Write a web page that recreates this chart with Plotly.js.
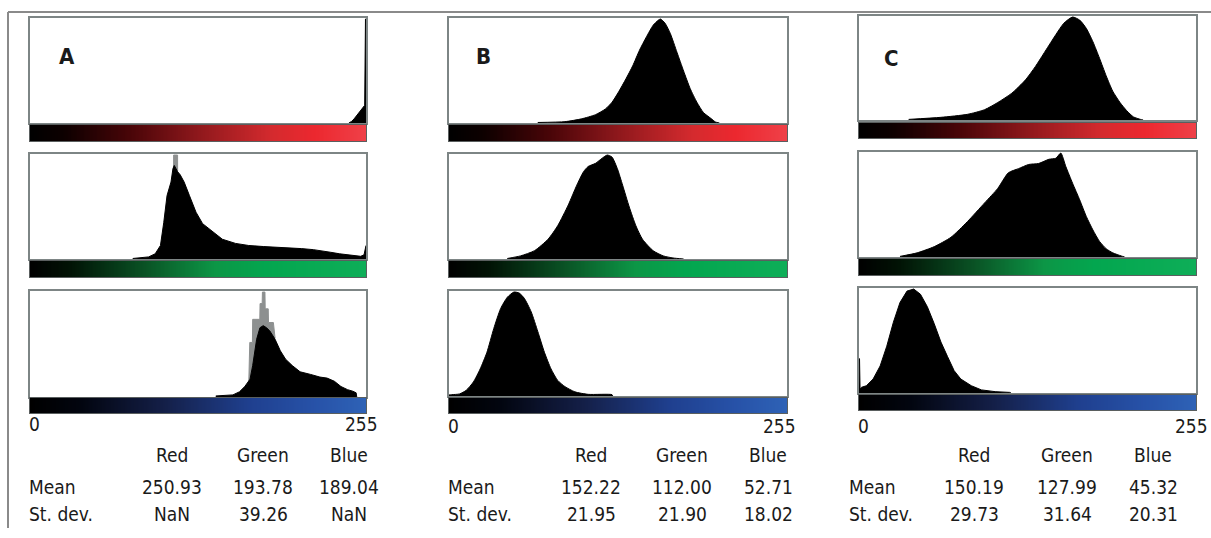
<!DOCTYPE html>
<html>
<head>
<meta charset="utf-8">
<script src="https://cdn.plot.ly/plotly-3.0.1.min.js"></script>
<style>html,body{margin:0;padding:0;background:#fff;}#chart{width:1211px;height:538px;}</style>
</head>
<body>
<div id="chart"></div>
<script>
// ---------- DATA (y = % of box height) ----------
const panelLabels = ['A', 'B', 'C'];
const channelNames = ['Red', 'Green', 'Blue'];
const scaleTicks = ['0', '255'];

// Panel A
const aRedX = [242, 244, 246, 248, 250, 252, 254, 254.6, 255];
const aRedY = [0, 1.5, 4, 7, 10, 13, 17, 100, 100];
const aGreenX = [78, 90, 95, 99, 101.5, 104, 107, 108.5, 109.5, 112, 114, 117, 121, 126, 131, 139, 146, 156, 166, 177, 187, 197, 206, 215, 222, 228, 235, 241, 246, 251, 253.5, 254.5, 255];
const aGreenY = [0.5, 2, 5, 13, 35, 61, 74, 87, 90, 84, 81, 74, 61, 45, 34, 26, 19, 15, 13, 12, 11.5, 11, 10, 9, 8, 6.5, 5, 4, 3.2, 2.6, 4, 13, 13];
const aGreenPeakX = [108.8, 109, 112, 112.2];
const aGreenPeakY = [0, 100, 100, 0];
const aBlueX = [141, 154, 159, 163, 167, 169, 172, 174.5, 177, 179.5, 182, 186, 190, 194, 199, 205, 213, 220, 225.5, 231, 236, 241, 245, 247.5, 248];
const aBlueY = [1, 2, 5, 10, 17, 30, 55, 66, 68, 66, 63, 55, 44, 36, 30, 24, 21.5, 19, 18, 15, 10, 7, 5.5, 4, 0];
const aBluePeakX = [166, 166.8, 168.8, 169, 174.4, 174.6, 176.2, 176.4, 178.3, 178.5, 180.8, 181, 184.7, 186];
const aBluePeakY = [12, 52, 52, 74, 74, 89, 89, 100, 100, 84, 84, 71, 71, 56];

// Panel B
const bRedX = [67, 87.5, 100, 110.5, 118, 123, 128, 133.5, 138.6, 143.7, 149, 154, 158, 159.6, 163, 167, 172, 177, 182, 187, 192, 197.5, 201, 204];
const bRedY = [0.5, 1.3, 4, 8, 13.5, 20, 30, 42.5, 55, 70, 83, 94, 99, 100, 96, 86, 68, 50, 33, 20, 10, 4.5, 1, 0];
const bGreenX = [44, 54, 64.5, 74.7, 82, 90, 96.4, 101.5, 105, 110.5, 115.6, 119.4, 123, 127, 131, 136, 141, 146, 154, 161.6, 169, 177];
const bGreenY = [0.5, 3, 8, 19, 32, 52, 71, 84, 89, 92, 97, 100, 98, 87, 71, 50, 32, 19, 8, 3, 1, 0];
const bBlueX = [0, 2, 8, 13, 18.4, 23.5, 28.6, 33.8, 38.9, 44, 49, 53, 56.8, 62, 67, 72, 77, 82, 87.5, 95, 105, 123, 123.5];
const bBlueY = [1, 1.3, 2, 5.5, 13.5, 26, 42, 65, 84, 95, 100, 99, 94, 81, 62, 42, 26, 15, 9, 4, 1.6, 1.3, 0];

// Panel C
const cRedX = [37.6, 62, 82, 95, 105, 115.6, 126, 133.5, 141, 149, 155, 161.6, 167, 172, 177, 182, 187, 192, 197.5, 202.6, 207.7, 213, 215];
const cRedY = [0.6, 2.6, 5.5, 10, 17, 26, 39, 52, 67, 83, 94, 100, 97, 89, 76, 60, 43, 28, 17, 9, 3, 0.6, 0];
const cGreenX = [31, 44, 57, 69.6, 82, 95, 105, 113, 120.7, 128.4, 136, 143.7, 149, 152.7, 156.5, 161.6, 167, 172, 177, 182, 187, 192, 198.5, 201];
const cGreenY = [0.6, 4, 10, 19, 34, 52, 66, 81, 85, 89, 90, 94, 95, 100, 87, 71, 55, 39, 26, 15, 8, 4, 1, 0];
const cBlueX = [0, 0.4, 0.8, 2, 5.6, 10.7, 16, 21, 26, 31, 36.3, 41.4, 46.5, 51.7, 56.8, 62, 67, 72, 77, 85, 92.6, 103, 114, 115];
const cBlueY = [33, 33, 4, 5.5, 7, 13.5, 26, 45, 68, 87, 98, 100, 95, 83, 67, 49, 35, 21.5, 13.5, 7, 3, 1.3, 0.6, 0];

// Statistics
const meanA = [250.93, 193.78, 189.04];
const sdA = [NaN, 39.26, NaN];
const meanB = [152.22, 112.00, 52.71];
const sdB = [21.95, 21.90, 18.02];
const meanC = [150.19, 127.99, 45.32];
const sdC = [29.73, 31.64, 20.31];

// Intensity levels for the gradient strips
const grayLevels = Array.from({length: 256}, (_, i) => i);

// ---------- LAYOUT HELPERS ----------
const W = 1211, H = 538;
const fx = x => x / W;
const fy = y => 1 - y / H;
const FONT = '"DejaVu Sans Condensed", "Liberation Sans Narrow", sans-serif';
const FS = 19;

// [x, y, peakX, peakY, smooth]
const hist = [
  [[aRedX, aRedY, null, null, false], [aGreenX, aGreenY, aGreenPeakX, aGreenPeakY, false], [aBlueX, aBlueY, aBluePeakX, aBluePeakY, false]],
  [[bRedX, bRedY, null, null, true], [bGreenX, bGreenY, null, null, true], [bBlueX, bBlueY, null, null, true]],
  [[cRedX, cRedY, null, null, true], [cGreenX, cGreenY, null, null, true], [cBlueX, cBlueY, null, null, false]]
];
const stats = [[meanA, sdA], [meanB, sdB], [meanC, sdC]];

const geom = [
  {x0: 30, x1: 366, rows: [[18, 123, 125, 141], [154, 259, 261, 277], [291, 397, 398, 413]],
   label: [67, 56], cols: [172, 263, 349], left: 27, zeroY: 424, tickR: 380},
  {x0: 449, x1: 787, rows: [[18, 123, 125, 141], [154, 259, 261, 277], [291, 396, 398, 413]],
   label: [483, 56], cols: [591, 682, 768], left: 446, zeroY: 426, tickR: 798},
  {x0: 859, x1: 1196, rows: [[16, 120, 123, 138], [152, 257, 259, 275], [288, 393, 395, 410]],
   label: [891, 58], cols: [974, 1067, 1153], left: 847, zeroY: 426, tickR: 1210}
];

const gradients = [
  [[0, '#000000'], [0.1, '#0d0000'], [0.3, '#4a0508'], [0.5, '#8e181c'], [0.72, '#d42a2e'], [0.85, '#ec282f'], [1, '#ef4048']],
  [[0, '#000000'], [0.12, '#011305'], [0.35, '#0a5526'], [0.55, '#0c9646'], [0.7, '#03a64f'], [1, '#0eae58']],
  [[0, '#000000'], [0.15, '#02050f'], [0.4, '#141f48'], [0.65, '#1f3f8e'], [0.85, '#2752a8'], [1, '#2e62b6']]
];

const data = [];
const layout = {
  width: W, height: H, autosize: false,
  margin: {l: 0, r: 0, t: 0, b: 0},
  paper_bgcolor: '#ffffff', plot_bgcolor: '#ffffff',
  showlegend: false,
  annotations: [], shapes: []
};

let n = 0;
function axName(k, base) { return base + (k === 1 ? '' : k); }

for (let p = 0; p < 3; p++) {
  const g = geom[p];
  for (let c = 0; c < 3; c++) {
    const [bt, bb, gt, gb] = g.rows[c];
    const [hx, hy, px, py, smooth] = hist[p][c];
    n++;
    const hk = n;
    if (px) {
      data.push({type: 'scatter', x: px, y: py, mode: 'lines', fill: 'tozeroy',
        fillcolor: '#8d9090', line: {color: '#8d9090', width: 1},
        xaxis: axName(hk, 'x'), yaxis: axName(hk, 'y'), hoverinfo: 'skip'});
    }
    data.push({type: 'scatter', x: hx, y: hy, mode: 'lines', fill: 'tozeroy',
      fillcolor: '#000000',
      line: smooth ? {color: '#000000', width: 1, shape: 'spline', smoothing: 0.6} : {color: '#000000', width: 1},
      xaxis: axName(hk, 'x'), yaxis: axName(hk, 'y'), hoverinfo: 'skip'});
    layout[axName(hk, 'xaxis')] = {domain: [fx(g.x0), fx(g.x1)], range: [0, 255], anchor: axName(hk, 'y'),
      showline: true, mirror: true, linecolor: '#7d8585', linewidth: 2,
      showgrid: false, zeroline: false, showticklabels: false, ticks: '', fixedrange: true};
    layout[axName(hk, 'yaxis')] = {domain: [fy(bb), fy(bt)], range: [0, 101], anchor: axName(hk, 'x'),
      showline: true, mirror: true, linecolor: '#7d8585', linewidth: 2,
      showgrid: false, zeroline: false, showticklabels: false, ticks: '', fixedrange: true};
    n++;
    const gk = n;
    data.push({type: 'heatmap', x: grayLevels, y: [0], z: [grayLevels], zmin: 0, zmax: 255,
      colorscale: gradients[c], showscale: false, hoverinfo: 'skip',
      xaxis: axName(gk, 'x'), yaxis: axName(gk, 'y')});
    layout[axName(gk, 'xaxis')] = {domain: [fx(g.x0), fx(g.x1)], range: [-0.5, 255.5], anchor: axName(gk, 'y'),
      showline: true, mirror: true, linecolor: '#5a5f5f', linewidth: 1,
      showgrid: false, zeroline: false, showticklabels: false, ticks: '', fixedrange: true};
    layout[axName(gk, 'yaxis')] = {domain: [fy(gb), fy(gt)], range: [-0.5, 0.5], anchor: axName(gk, 'x'),
      showline: true, mirror: true, linecolor: '#5a5f5f', linewidth: 1,
      showgrid: false, zeroline: false, showticklabels: false, ticks: '', fixedrange: true};
  }

  const txt = (text, x, y, xanchor, size, bold) => layout.annotations.push({
    text: bold ? '<b>' + text + '</b>' : text, xref: 'paper', yref: 'paper', x: fx(x), y: fy(y),
    xanchor: xanchor, yanchor: 'middle', showarrow: false,
    font: {family: FONT, size: size, color: '#1a1a1a'}
  });

  txt(panelLabels[p], g.label[0], g.label[1], 'center', 22, true);
  txt(scaleTicks[0], g.x0 - 3, g.zeroY, 'left', FS, false);
  txt(scaleTicks[1], g.tickR, g.zeroY, 'right', FS, false);
  for (let c = 0; c < 3; c++) {
    txt(channelNames[c], g.cols[c], 455, 'center', FS, false);
    const m = stats[p][0][c], s = stats[p][1][c];
    txt(isNaN(m) ? 'NaN' : m.toFixed(2), g.cols[c], 487, 'center', FS, false);
    txt(isNaN(s) ? 'NaN' : s.toFixed(2), g.cols[c], 514, 'center', FS, false);
  }
  txt('Mean', g.left, 487, 'left', FS, false);
  txt('St. dev.', g.left, 514, 'left', FS, false);
}

layout.shapes.push({type: 'line', xref: 'paper', yref: 'paper', x0: fx(8), x1: 1, y0: fy(12), y1: fy(12),
  line: {color: '#8a8a8a', width: 2}});
layout.shapes.push({type: 'line', xref: 'paper', yref: 'paper', x0: fx(8), x1: fx(8), y0: fy(12), y1: fy(528),
  line: {color: '#8a8a8a', width: 2}});

Plotly.newPlot('chart', data, layout, {displayModeBar: false, staticPlot: true});
</script>
</body>
</html>
